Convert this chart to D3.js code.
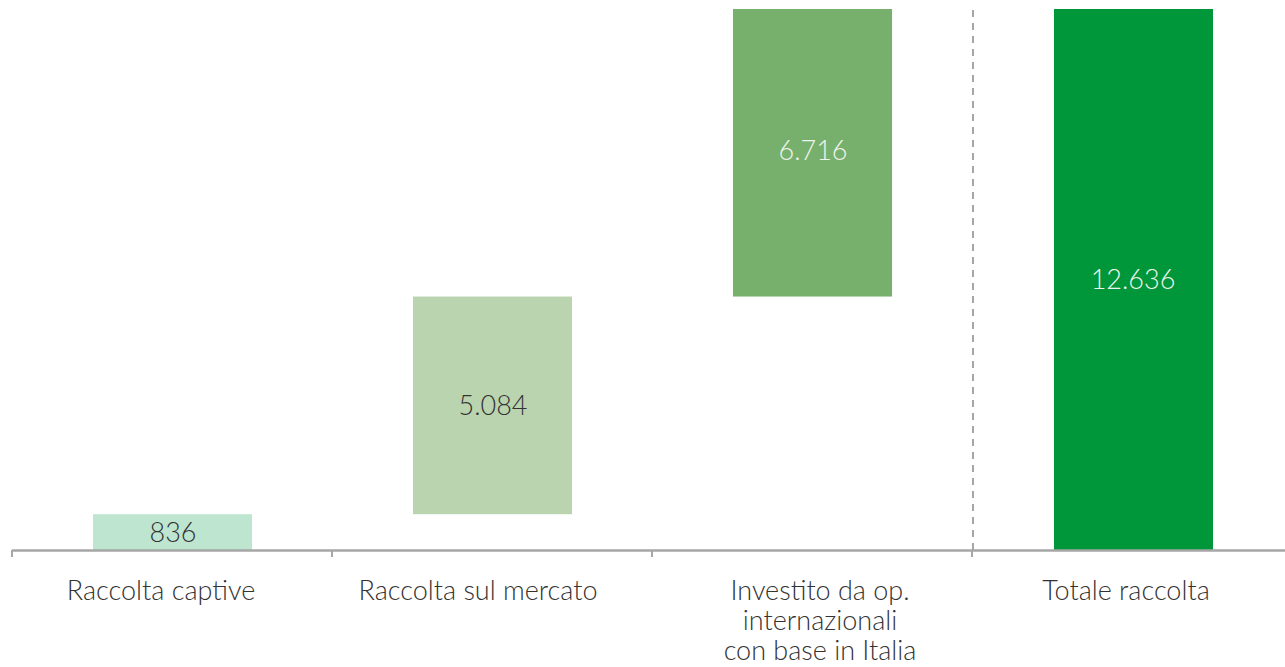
<!DOCTYPE html>
<html>
<head>
<meta charset="utf-8">
<script src="https://cdn.jsdelivr.net/npm/d3@7"></script>
<style>
  body { margin: 0; background: #fff; }
  text { font-family: Lato, "Open Sans", sans-serif; font-weight: 300; }
</style>
</head>
<body>
<div id="chart"></div>
<script>
// Data (waterfall: each step starts where the previous one ended, last one is the total)
var categories = ["Raccolta captive", "Raccolta sul mercato", "Investito da op. internazionali con base in Italia", "Totale raccolta"];
var labelLines = [["Raccolta captive"], ["Raccolta sul mercato"], ["Investito da op.", "internazionali", "con base in Italia"], ["Totale raccolta"]];
var values = [836, 5084, 6716, 12636];
var isTotal = [false, false, false, true];
var valueLabels = ["836", "5.084", "6.716", "12.636"];
var colors = ["#bee5d0", "#bad4b0", "#77b06d", "#00963a"];
var labelColors = ["#333333", "#333333", "#eef5ec", "#eef5ec"];

var W = 1285, H = 667;
var svg = d3.select("#chart").append("svg").attr("width", W).attr("height", H);

var x = d3.scaleBand().domain(categories).range([12, 1292]).paddingInner(0.503).paddingOuter(0.2515);
var y = d3.scaleLinear().domain([0, 12636]).range([550, 9]);

// small horizontal nudges of the category labels (as in the original layout)
var labelNudge = [-12, -15, 7, -7];

// build start/end for waterfall
var run = 0;
var bars = categories.map(function(c, i) {
  var b;
  if (isTotal[i]) { b = {c: c, y0: 0, y1: values[i]}; }
  else { b = {c: c, y0: run, y1: run + values[i]}; run += values[i]; }
  b.i = i;
  return b;
});

svg.selectAll("rect.bar")
  .data(bars)
  .enter().append("rect")
  .attr("class", "bar")
  .attr("x", function(d) { return x(d.c) + (d.i === 3 ? 1.5 : 0.5); })
  .attr("width", x.bandwidth())
  .attr("y", function(d) { return y(d.y1); })
  .attr("height", function(d) { return y(d.y0) - y(d.y1); })
  .style("fill", function(d) { return colors[d.i]; });

svg.selectAll("text.val")
  .data(bars)
  .enter().append("text")
  .attr("class", "val")
  .attr("x", function(d) { return x(d.c) + x.bandwidth() / 2 + 1; })
  .attr("y", function(d) { return (y(d.y0) + y(d.y1)) / 2; })
  .attr("dy", function(d) { return d.i === 2 ? "0.25em" : "0.36em"; })
  .attr("text-anchor", "middle")
  .style("font-size", "27px")
  .style("fill", function(d) { return labelColors[d.i]; })
  .text(function(d) { return valueLabels[d.i]; });

// dashed separator before the total
var sepX = 12 + x.step() * 3 + 1;
svg.append("line")
  .attr("x1", sepX).attr("x2", sepX)
  .attr("y1", 10).attr("y2", 550)
  .style("stroke", "#a6a6a6")
  .style("stroke-width", 2)
  .style("stroke-dasharray", "7,6");

// axis line with ticks at band boundaries
var axisG = svg.append("g");
axisG.append("line")
  .attr("x1", 12).attr("x2", W)
  .attr("y1", 550.5).attr("y2", 550.5)
  .style("stroke", "#a6a6a6").style("stroke-width", 2.5);
[0, 1, 2, 3].forEach(function(k) {
  var tx = 12 + x.step() * k;
  axisG.append("line")
    .attr("x1", tx).attr("x2", tx)
    .attr("y1", 550).attr("y2", 557)
    .style("stroke", "#a6a6a6").style("stroke-width", 2);
});

// category labels, one text per line
categories.forEach(function(c, i) {
  var cx = x(c) + x.bandwidth() / 2 + 1 + labelNudge[i];
  labelLines[i].forEach(function(l, j) {
    svg.append("text")
      .attr("x", cx)
      .attr("y", 600 + j * 30)
      .attr("text-anchor", "middle")
      .style("font-size", "27px")
      .style("fill", "#333333")
      .text(l);
  });
});
</script>
</body>
</html>
